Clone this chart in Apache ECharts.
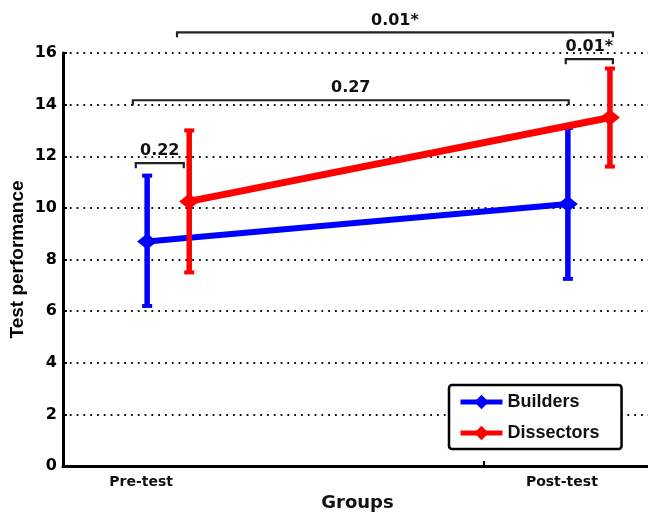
<!DOCTYPE html>
<html>
<head>
<meta charset="utf-8">
<script src="https://cdn.jsdelivr.net/npm/echarts@6/dist/echarts.min.js"></script>
<style>html,body{margin:0;padding:0;background:#fff;}#c{width:648px;height:512px;}</style>
</head>
<body>
<div id="c"></div>
<script>
// ---- data ----
var groups = ['Pre-test', 'Post-test'];
var groupPos = [1, 2];
var dissectorOffset = 0.1;
var builderMean = [8.7, 10.15];
var builderLow = [6.2, 7.25];
var builderHigh = [11.25, 13.1];
var dissectorMean = [10.25, 13.5];
var dissectorLow = [7.5, 11.6];
var dissectorHigh = [13.0, 15.4];
var yTicks = [0, 2, 4, 6, 8, 10, 12, 14, 16];
// significance brackets: [x start, x end, y level], labels
var bracketStart = [0.973, 0.966, 1.071, 1.995];
var bracketEnd = [1.087, 2.002, 2.107, 2.107];
var bracketLevel = [11.73, 14.17, 16.8, 15.76];
var bracketLabels = ['0.22', '0.27', '0.01*', '0.01*'];

var chart = echarts.init(document.getElementById('c'), null, {renderer: 'canvas'});

var bxs = groupPos.slice();
var dxs = groupPos.map(function (p) { return p + dissectorOffset; });

function errData(xs, lo, hi) {
  return xs.map(function (x, i) { return [x, lo[i], hi[i]]; });
}
function lineData(xs, m) {
  return xs.map(function (x, i) { return [x, m[i]]; });
}
function errRender(color) {
  return function (params, api) {
    var x = api.value(0);
    var p1 = api.coord([x, api.value(1)]);
    var p2 = api.coord([x, api.value(2)]);
    return {
      type: 'group',
      children: [
        {type: 'line', shape: {x1: p1[0], y1: p1[1], x2: p2[0], y2: p2[1]},
         style: {stroke: color, lineWidth: 5.5}},
        {type: 'rect', shape: {x: p1[0] - 5, y: p1[1] - 2, width: 10, height: 4},
         style: {fill: color}},
        {type: 'rect', shape: {x: p2[0] - 5, y: p2[1] - 2, width: 10, height: 4},
         style: {fill: color}}
      ]
    };
  };
}
var bracketData = bracketStart.map(function (s, i) { return [s, bracketEnd[i], bracketLevel[i]]; });

var option = {
  animation: false,
  backgroundColor: '#fff',
  grid: {left: 63, top: 53, width: 589, bottom: 46, containLabel: false, outerBoundsMode: 'none'},
  xAxis: {
    type: 'value', min: 0.8, max: 2.2,
    name: 'Groups', nameLocation: 'middle', nameGap: 27,
    nameTextStyle: {fontFamily: 'DejaVu Sans', fontWeight: 'bold', fontSize: 18, color: '#111'},
    axisLine: {show: true, lineStyle: {color: '#000', width: 3}},
    axisTick: {show: true, inside: true, length: 5, lineStyle: {color: '#000', width: 2}, customValues: [1.8]},
    axisLabel: {
      show: true, customValues: groupPos, margin: 9,
      fontFamily: 'DejaVu Sans', fontWeight: 'bold', fontSize: 14, color: '#111',
      padding: [0, 12, 0, 0],
      formatter: function (v) {
        var i = groupPos.indexOf(Math.round(v * 100) / 100);
        return i >= 0 ? groups[i] : '';
      }
    },
    splitLine: {show: false}
  },
  yAxis: {
    type: 'value', min: yTicks[0], max: yTicks[yTicks.length - 1], interval: 2,
    name: 'Test performance', nameLocation: 'middle', nameGap: 36, nameMoveOverlap: false,
    nameTextStyle: {fontFamily: 'Liberation Sans', fontWeight: 'bold', fontSize: 19, color: '#000'},
    axisLine: {show: true, lineStyle: {color: '#000', width: 3}},
    axisTick: {show: true, inside: true, length: 4, lineStyle: {color: '#000', width: 2}},
    axisLabel: {margin: 6, fontFamily: 'DejaVu Sans', fontWeight: 'bold', fontSize: 16, color: '#000'},
    splitLine: {show: true, lineStyle: {color: '#111', width: 1.8, type: [1.8, 5]}}
  },
  legend: {
    orient: 'vertical', left: 449, top: 385,
    padding: [7, 22, 6, 9],
    itemGap: 11, itemWidth: 42, itemHeight: 18,
    backgroundColor: '#fff', borderColor: '#000', borderWidth: 2.5, borderRadius: 3,
    lineStyle: {width: 5},
    textStyle: {fontFamily: 'Liberation Sans', fontWeight: 'bold', fontSize: 18, lineHeight: 20, color: '#111'},
    data: ['Builders', 'Dissectors']
  },
  series: [
    {
      name: 'BuildersErr', type: 'custom', z: 2,
      renderItem: errRender('#0000ff'),
      encode: {x: 0, y: [1, 2]},
      data: errData(bxs, builderLow, builderHigh)
    },
    {
      name: 'Builders', type: 'line', z: 3,
      data: lineData(bxs, builderMean),
      symbol: 'diamond', symbolSize: [20, 16],
      lineStyle: {color: '#0000ff', width: 6},
      itemStyle: {color: '#0000ff'}
    },
    {
      name: 'DissectorsErr', type: 'custom', z: 4,
      renderItem: errRender('#ff0000'),
      encode: {x: 0, y: [1, 2]},
      data: errData(dxs, dissectorLow, dissectorHigh)
    },
    {
      name: 'Dissectors', type: 'line', z: 5,
      data: lineData(dxs, dissectorMean),
      symbol: 'diamond', symbolSize: [20, 16],
      lineStyle: {color: '#ff0000', width: 7},
      itemStyle: {color: '#ff0000'}
    },
    {
      name: 'brackets', type: 'custom', z: 6, clip: false,
      encode: {x: [0, 1], y: 2},
      renderItem: function (params, api) {
        var a = api.coord([api.value(0), api.value(2)]);
        var b = api.coord([api.value(1), api.value(2)]);
        var t = 5;
        return {
          type: 'group',
          children: [
            {type: 'polyline', shape: {points: [[a[0], a[1] + t], [a[0], a[1]], [b[0], a[1]], [b[0], b[1] + t]]},
             style: {stroke: '#222', lineWidth: 2.2, fill: null}},
            {type: 'text', style: {
              text: bracketLabels[params.dataIndex],
              x: (a[0] + b[0]) / 2, y: a[1] - 4,
              align: 'center', verticalAlign: 'bottom',
              fontFamily: 'DejaVu Sans', fontWeight: 'bold', fontSize: 16, fill: '#111'
            }}
          ]
        };
      },
      data: bracketData
    }
  ]
};
chart.setOption(option);
</script>
</body>
</html>
